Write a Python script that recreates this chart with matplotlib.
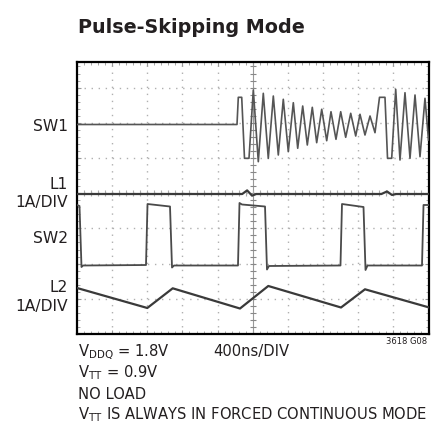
import numpy as np
import matplotlib
matplotlib.use("Agg")
import matplotlib.pyplot as plt

# ---------------- data (x in divisions, 400 ns/div; y in divisions) ----------------
sw1_x = [0, 4.552, 4.589, 4.686, 4.765, 4.893, 5.016, 5.158, 5.300, 5.442, 5.585, 5.727,
         5.869, 6.011, 6.154, 6.279, 6.421, 6.552, 6.694, 6.819, 6.962, 7.104, 7.226,
         7.368, 7.502, 7.644, 7.787, 7.929, 8.051, 8.193, 8.336, 8.478, 8.606, 8.762,
         8.834, 8.953, 9.067, 9.189, 9.331, 9.474, 9.616, 9.758, 9.900, 10.0]
sw1_y = [5.952, 5.952, 6.724, 6.724, 4.991, 4.991, 6.932, 4.895, 6.838, 4.991, 6.761, 5.085,
         6.668, 5.179, 6.571, 5.276, 6.477, 5.369, 6.440, 5.435, 6.384, 5.491, 6.315,
         5.531, 6.315, 5.588, 6.270, 5.625, 6.242, 5.653, 6.193, 5.719, 6.724, 6.724,
         4.991, 4.991, 6.952, 4.943, 6.855, 4.991, 6.790, 5.037, 6.696, 5.511]

l1_x = [0, 4.70, 4.84, 4.98, 5.10, 8.66, 8.82, 8.96, 9.08, 10.0]
l1_y = [3.977, 3.977, 4.08, 3.93, 3.977, 3.977, 4.05, 3.95, 3.977, 3.977]

sw2_x = [0, 0.071, 0.128, 0.171, 1.963, 2.006, 2.646, 2.703, 2.760, 4.580, 4.623, 4.694,
         5.349, 5.405, 5.462, 7.496, 7.539, 8.151, 8.208, 8.265, 9.815, 9.858, 10.0]
sw2_y = [3.665, 3.636, 1.903, 1.946, 1.960, 3.693, 3.622, 1.889, 1.946, 1.946, 3.722, 3.679,
         3.622, 1.832, 1.932, 1.946, 3.693, 3.608, 1.818, 1.946, 1.946, 3.665, 3.665]

l2_x = [0, 2.0, 2.723, 4.637, 5.442, 7.511, 8.193, 10.0]
l2_y = [1.307, 0.739, 1.298, 0.724, 1.364, 0.753, 1.270, 0.759]

trace_labels = ["SW1", "L1\n1A/DIV", "SW2", "L2\n1A/DIV"]
title = "Pulse-Skipping Mode"
notes = [r"V$_{\mathrm{DDQ}}$ = 1.8V", r"V$_{\mathrm{TT}}$ = 0.9V", "NO LOAD",
         r"V$_{\mathrm{TT}}$ IS ALWAYS IN FORCED CONTINUOUS MODE"]
timebase = "400ns/DIV"
fig_id = "3618 G08"

# ---------------- style ----------------
FONT = "Liberation Sans Narrow"
plt.rcParams["font.family"] = [FONT, "DejaVu Sans"]
plt.rcParams["mathtext.fontset"] = "custom"
plt.rcParams["mathtext.rm"] = FONT
plt.rcParams["mathtext.it"] = FONT
plt.rcParams["mathtext.bf"] = FONT + ":bold"

W, H = 437, 421
fig = plt.figure(figsize=(W / 100, H / 100), dpi=100)
L, R, T, B = 77, 428.5, 62, 334
ax = fig.add_axes([L / W, 1 - B / H, (R - L) / W, (B - T) / H])
ymax = (B - T) / 35.2
ax.set_xlim(0, 10)
ax.set_ylim(0, ymax)

# grid dots
for gx in range(1, 10):
    if gx != 5:
        ax.plot([gx, gx], [0, ymax], color="#b0b0b0", lw=1.0, ls=(0, (1, 4.07)), zorder=1)
for gy in range(1, 8):
    if gy != 4:
        ax.plot([0, 10], [gy, gy], color="#b0b0b0", lw=1.0, ls=(0, (1, 4.07)), zorder=1)
# center crosshair with minor ticks
ax.plot([5, 5], [0, ymax], color="#999999", lw=0.8, zorder=1)
ax.plot([0, 10], [4, 4], color="#b0b0b0", lw=1.0, ls=(0, (1, 4.07)), zorder=1)
ty = np.arange(0.2, ymax, 0.2)
ax.plot(np.full_like(ty, 5), ty, ls="none", marker="_", ms=4.5, mew=0.8, color="#888888", zorder=1)
tx = np.arange(0.2, 10, 0.2)
ax.plot(tx, np.full_like(tx, 4), ls="none", marker="|", ms=4.5, mew=0.8, color="#aaaaaa", zorder=1)

# traces
tc = "#3a3a3a"
ax.plot(sw1_x, sw1_y, color="#555555", lw=1.2, zorder=3)
ax.plot(l1_x, l1_y, color=tc, lw=1.6, zorder=3)
ax.plot(sw2_x, sw2_y, color="#4a4a4a", lw=1.3, zorder=3)
ax.plot(l2_x, l2_y, color=tc, lw=1.6, zorder=3)

# frame and edge ticks
for s in ax.spines.values():
    s.set_linewidth(1.6)
    s.set_color("black")
ax.set_xticks(np.arange(0, 10.01, 1))
ax.set_yticks(np.arange(0, ymax, 1))
ax.set_xticks(np.arange(0, 10.01, 0.2), minor=True)
ax.set_yticks(np.arange(0, ymax, 0.2), minor=True)
ax.tick_params(which="both", direction="in", top=True, right=True,
               labelbottom=False, labelleft=False, color="#999999")
ax.tick_params(which="major", length=3, width=0.8)
ax.tick_params(which="minor", length=2, width=0.6)

# texts
def fx(px):
    return px / W

def fy(py):
    return 1 - py / H

fig.text(fx(78), fy(33.3), title, fontsize=13.8, fontweight="bold", va="baseline", ha="left",
         color="#231f20")

label_pos = [126.7, 193.6, 238.3, 297.0]
for lab, py in zip(trace_labels, label_pos):
    fig.text(fx(68), fy(py), lab, fontsize=11.2, ha="right", va="center",
             linespacing=1.3, color="#231f20")

baselines = [356, 377.3, 399.3, 419]
for txt, py in zip(notes, baselines):
    fig.text(fx(78), fy(py), txt, fontsize=10.6, ha="left", va="baseline", color="#231f20")
fig.text(fx(213), fy(356), timebase, fontsize=10.6, ha="left", va="baseline", color="#231f20")
fig.text(fx(427), fy(343.5), fig_id, fontsize=6, ha="right", va="baseline", color="#231f20")

fig.savefig("out.png", dpi=100)
